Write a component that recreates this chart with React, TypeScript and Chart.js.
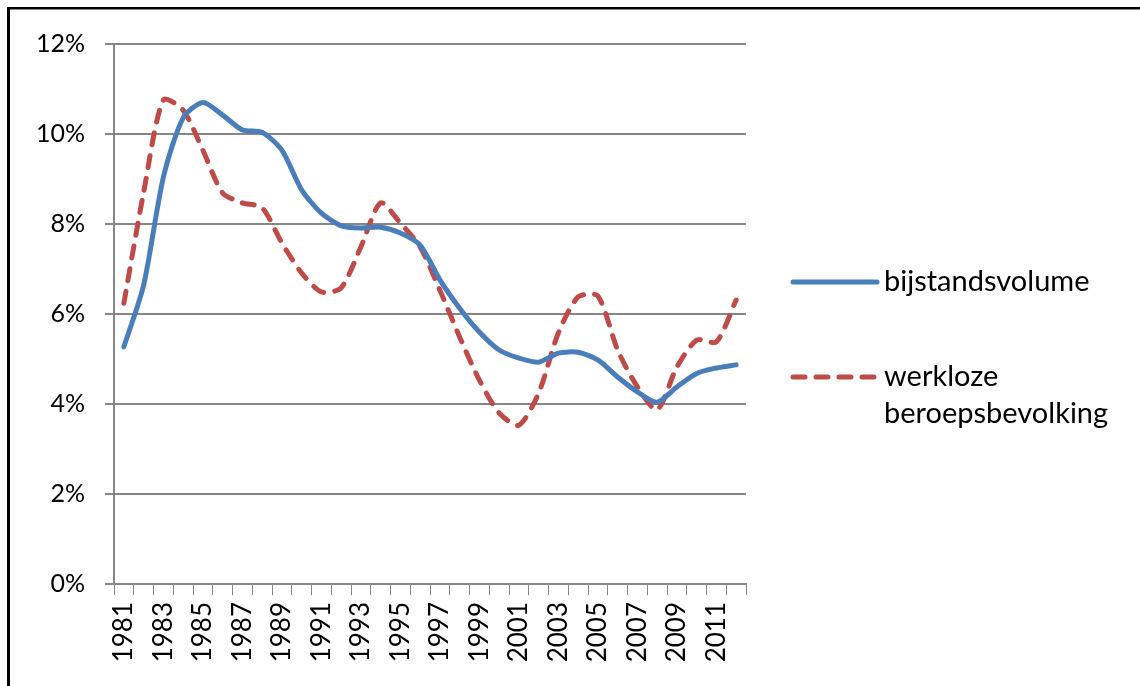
import React, { useEffect, useRef } from "react";
import { Chart, registerables } from "chart.js";

Chart.register(...registerables);

const years = [
  "1981", "1982", "1983", "1984", "1985", "1986", "1987", "1988",
  "1989", "1990", "1991", "1992", "1993", "1994", "1995", "1996",
  "1997", "1998", "1999", "2000", "2001", "2002", "2003", "2004",
  "2005", "2006", "2007", "2008", "2009", "2010", "2011", "2012",
];

const bijstandsvolume = [
  5.27, 6.64, 9.04, 10.36, 10.7, 10.42, 10.09, 10.04,
  9.64, 8.76, 8.24, 7.96, 7.91, 7.93, 7.8, 7.53,
  6.76, 6.13, 5.6, 5.2, 5.02, 4.93, 5.13, 5.15,
  4.98, 4.6, 4.27, 4.04, 4.38, 4.68, 4.8, 4.87,
];

const werklozeBeroepsbevolking = [
  6.24, 8.7, 10.76, 10.53, 9.64, 8.69, 8.47, 8.36,
  7.58, 6.91, 6.49, 6.58, 7.49, 8.47, 8.02, 7.49,
  6.53, 5.49, 4.53, 3.8, 3.53, 4.24, 5.58, 6.38,
  6.4, 5.2, 4.38, 3.87, 4.82, 5.42, 5.38, 6.31,
];

const yTicks = [0, 2, 4, 6, 8, 10, 12];

const seriesNames = ["bijstandsvolume", ["werkloze", "beroepsbevolking"]];

const BLUE = "#4a7ebb";
const RED = "#be4b48";
const GRID = "#868686";
const FONT = "Lato, 'Open Sans', sans-serif";

const legendPlugin = {
  id: "customLegend",
  afterDraw(chart: any) {
    const ctx = chart.ctx as CanvasRenderingContext2D;
    const datasets = chart.data.datasets;
    const lx0 = 793;
    const lx1 = 877;
    const tx = 884;
    const rows = [282, 377];
    ctx.save();
    datasets.forEach((ds: any, i: number) => {
      const y = rows[i];
      ctx.beginPath();
      ctx.strokeStyle = ds.borderColor;
      ctx.lineWidth = ds.borderWidth;
      ctx.lineCap = "round";
      ctx.setLineDash(ds.borderDash || []);
      ctx.moveTo(lx0, y);
      ctx.lineTo(lx1, y);
      ctx.stroke();
      ctx.setLineDash([]);
      ctx.fillStyle = "#000";
      ctx.font = `29px ${FONT}`;
      ctx.textBaseline = "middle";
      ctx.textAlign = "left";
      const label = seriesNames[i];
      const lines = Array.isArray(label) ? label : [label];
      lines.forEach((t: string, j: number) => {
        ctx.fillText(t, tx, y + j * 37);
      });
    });
    ctx.restore();
  },
};

export default function App() {
  const ref = useRef<HTMLCanvasElement | null>(null);

  useEffect(() => {
    if (!ref.current) return;
    const chart = new Chart(ref.current, {
      type: "line",
      data: {
        labels: years,
        datasets: [
          {
            label: "bijstandsvolume",
            data: bijstandsvolume,
            borderColor: BLUE,
            backgroundColor: BLUE,
            borderWidth: 5,
            pointRadius: 0,
            tension: 0.25,
            borderCapStyle: "round",
            borderJoinStyle: "round",
            fill: false,
          },
          {
            label: "werkloze beroepsbevolking",
            data: werklozeBeroepsbevolking,
            borderColor: RED,
            backgroundColor: RED,
            borderWidth: 5,
            borderDash: [12, 11],
            pointRadius: 0,
            tension: 0.25,
            borderCapStyle: "round",
            borderJoinStyle: "round",
            fill: false,
          },
        ],
      },
      options: {
        animation: false,
        responsive: false,
        devicePixelRatio: 1,
        layout: { padding: { left: 0, top: 44, right: 394, bottom: 0 } },
        plugins: {
          legend: { display: false },
          tooltip: { enabled: false },
        },
        scales: {
          x: {
            type: "category",
            offset: true,
            grid: {
              offset: true,
              drawOnChartArea: false,
              drawTicks: true,
              tickLength: 11,
              color: GRID,
              lineWidth: 1,
            },
            border: { display: true, color: GRID, width: 2 },
            ticks: {
              autoSkip: false,
              minRotation: 90,
              maxRotation: 90,
              padding: 7,
              color: "#000",
              font: { family: FONT, size: 26 },
              callback: (_v: any, i: number) => (i % 2 === 0 ? years[i] : ""),
            },
            afterFit: (s: any) => {
              s.height = 102;
            },
          },
          y: {
            min: yTicks[0],
            max: yTicks[yTicks.length - 1],
            grid: {
              color: GRID,
              lineWidth: 2,
              tickLength: 9,
            },
            border: { display: true, color: GRID, width: 2 },
            ticks: {
              stepSize: 2,
              padding: 20,
              color: "#000",
              font: { family: FONT, size: 25 },
              callback: (v: any) => `${v}%`,
            },
            afterFit: (s: any) => {
              s.width = 114;
            },
          },
        },
      },
      plugins: [legendPlugin],
    });
    return () => chart.destroy();
  }, []);

  return (
    <div
      style={{
        position: "fixed",
        left: 0,
        top: 0,
        width: 1140,
        height: 686,
        background: "#fff",
        overflow: "hidden",
      }}
    >
      <canvas
        ref={ref}
        width={1140}
        height={686}
        style={{ position: "absolute", left: 0, top: 0, width: 1140, height: 686 }}
      />
      <div style={{ position: "absolute", left: 7, top: 7, width: 1133, height: 2, background: "#000" }} />
      <div style={{ position: "absolute", left: 10, top: 9, width: 1130, height: 1, background: "#888" }} />
      <div style={{ position: "absolute", left: 7, top: 7, width: 3, height: 679, background: "#000" }} />
    </div>
  );
}
